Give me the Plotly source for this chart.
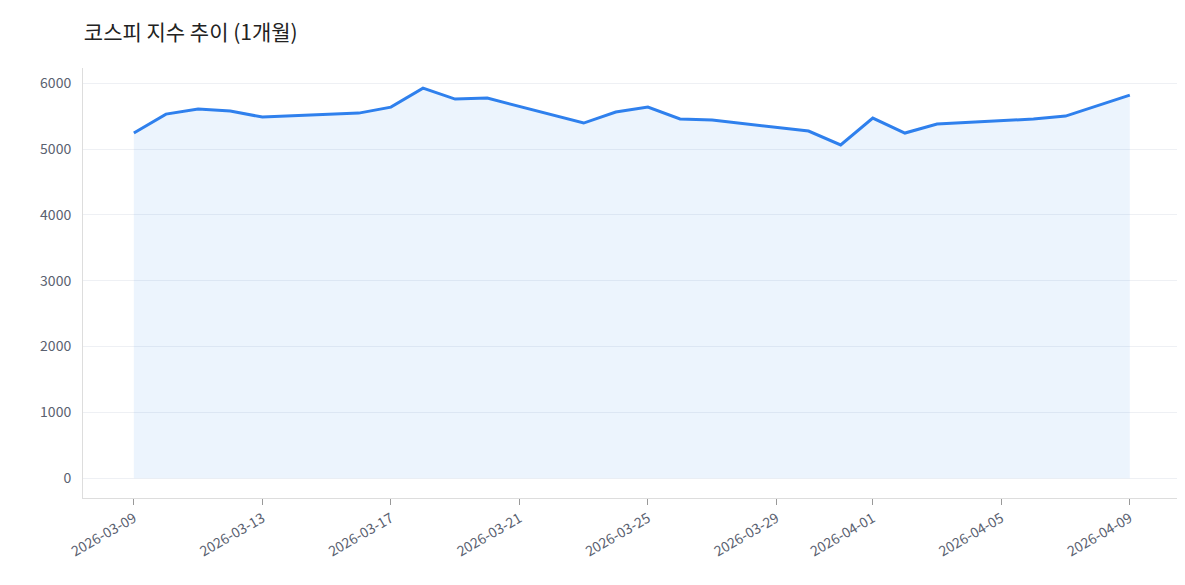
import plotly.graph_objects as go

dates = ["2026-03-09","2026-03-10","2026-03-11","2026-03-12","2026-03-13","2026-03-16","2026-03-17",
         "2026-03-18","2026-03-19","2026-03-20","2026-03-23","2026-03-24","2026-03-25","2026-03-26",
         "2026-03-27","2026-03-30","2026-03-31","2026-04-01","2026-04-02","2026-04-03","2026-04-06",
         "2026-04-07","2026-04-09"]
values = [5242,5530,5606,5576,5485,5545,5636,5924,5758,5773,5394,5561,5636,5455,5439,5273,5061,
          5470,5242,5379,5455,5500,5818]
tick_dates = ["2026-03-09","2026-03-13","2026-03-17","2026-03-21","2026-03-25","2026-03-29",
              "2026-04-01","2026-04-05","2026-04-09"]

fig = go.Figure(go.Scatter(x=dates, y=values, mode="lines", line=dict(color="#2f80ed", width=3),
                           fill="tozeroy", fillcolor="rgba(47,128,237,0.09)"))
font = "Noto Sans CJK KR"
fig.update_layout(
    width=1185, height=585, paper_bgcolor="white", plot_bgcolor="white",
    margin=dict(l=75, r=15, t=60, b=95, autoexpand=False),
    title=dict(text="코스피 지수 추이 (1개월)", x=0.064, y=1 - 25 / 585, xanchor="left", yanchor="middle",
               font=dict(family=font, size=21, color="#222")),
    font=dict(family=font, color="#5a6170", size=14),
    showlegend=False,
)
fig.update_xaxes(tickvals=tick_dates, ticktext=tick_dates, tickangle=-30, ticks="outside",
                 tickcolor="#999", ticklen=6, showgrid=False, showline=True, linecolor="#ddd",
                 range=["2026-03-07 10:00", "2026-04-10 12:00"], automargin=False)
fig.update_yaxes(range=[-300, 6230], tickvals=[0,1000,2000,3000,4000,5000,6000],
                 showgrid=True, gridcolor="#eef0f4", showline=True, linecolor="#ddd",
                 zeroline=False, ticks="", ticklabelstandoff=8, automargin=False)
fig.write_html("out.html")
